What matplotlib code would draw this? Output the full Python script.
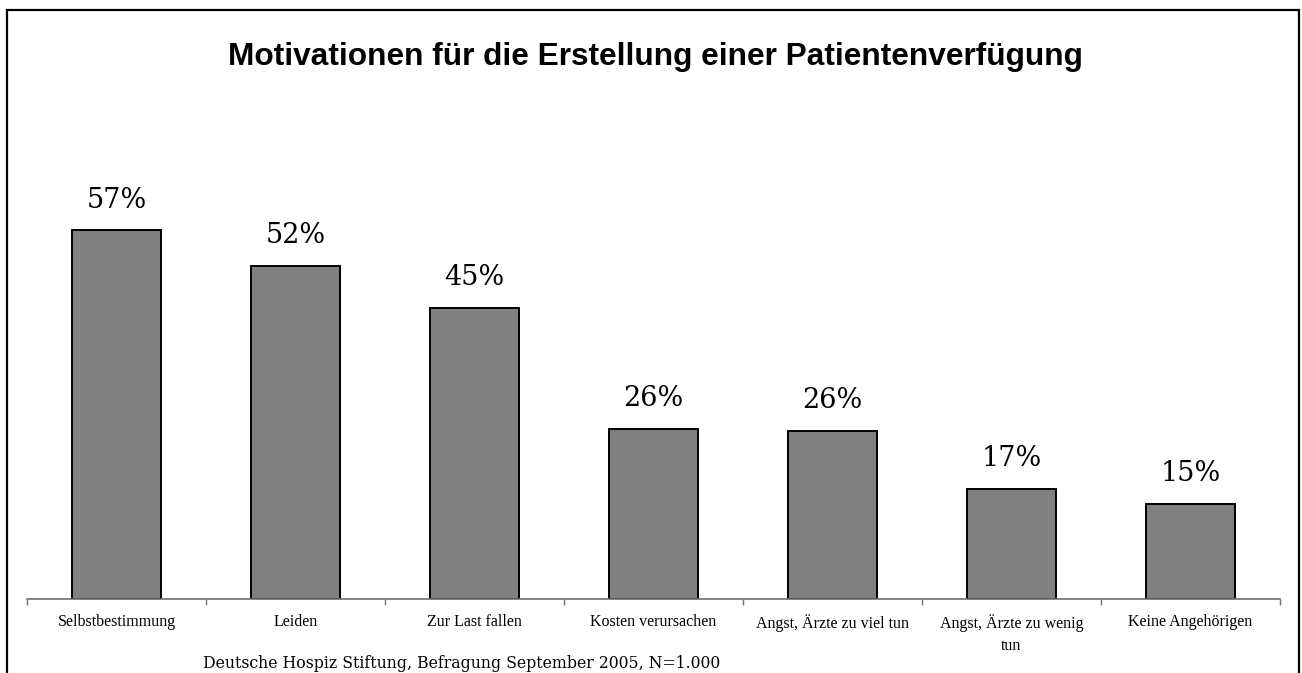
import matplotlib
matplotlib.use("Agg")
import matplotlib.pyplot as plt
from matplotlib.patches import Rectangle

# data
categories = ["Selbstbestimmung", "Leiden", "Zur Last fallen", "Kosten verursachen",
              "Angst, Ärzte zu viel tun", "Angst, Ärzte zu wenig\ntun", "Keine Angehörigen"]
values = [57, 51.5, 45, 26.3, 26, 17, 14.7]
labels = ["57%", "52%", "45%", "26%", "26%", "17%", "15%"]

title = "Motivationen für die Erstellung einer Patientenverfügung"
source = "Deutsche Hospiz Stiftung, Befragung September 2005, N=1.000"

W, H = 1302, 673
fig = plt.figure(figsize=(W / 100, H / 100), dpi=100, facecolor="white")

# outer frame
fig.patches.append(Rectangle((7 / W, -0.01), 1292 / W, (H - 10) / H + 0.01,
                             transform=fig.transFigure, fill=False,
                             edgecolor="black", lw=1.6))

ax_l, ax_r = 27 / W, 1280 / W
ax_b = (H - 599) / H
ymax = 60
ax_h = ymax * 6.47 / H
ax = fig.add_axes([ax_l, ax_b, ax_r - ax_l, ax_h])

x = list(range(len(categories)))
ax.bar(x, values, width=0.5, color="#808080", edgecolor="black", linewidth=1.4, zorder=2)

for xi, v, lab in zip(x, values, labels):
    ax.annotate(lab, (xi, v), xytext=(0, 12), textcoords="offset points",
                ha="center", va="bottom", fontsize=19.5, family="DejaVu Serif",
                fontweight="light")

ax.set_xlim(-0.5, len(categories) - 0.5)
ax.set_ylim(0, ymax)
for s in ["top", "right", "left"]:
    ax.spines[s].set_visible(False)
ax.spines["bottom"].set_color("#707070")
ax.spines["bottom"].set_linewidth(1.2)
ax.set_yticks([])

ax.set_xticks([i - 0.5 for i in range(len(categories) + 1)])
ax.set_xticklabels([])
ax.set_xticks(x, minor=True)
ax.set_xticklabels(categories, minor=True, fontsize=11.5, family="Liberation Serif",
                   linespacing=1.5)
ax.tick_params(axis="x", which="major", direction="out", length=4, color="#707070", width=1)
ax.tick_params(axis="x", which="minor", length=0, pad=11)

fig.text(655 / W, 1 - 57 / H, title, ha="center", va="center",
         fontsize=22.8, fontweight="bold", family="Liberation Sans")
fig.text(203 / W, 1 - 663 / H, source, ha="left", va="center",
         fontsize=11.3, family="DejaVu Serif")

fig.savefig("out.png", dpi=100, facecolor="white")
